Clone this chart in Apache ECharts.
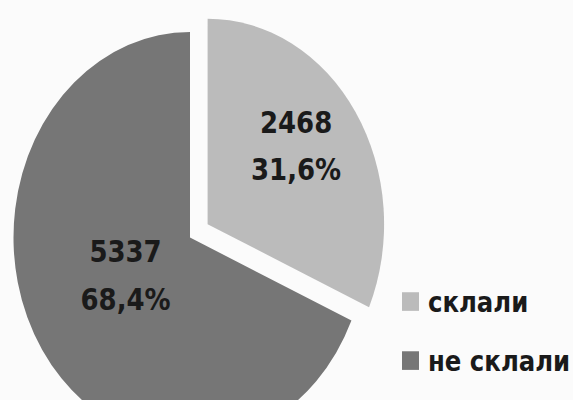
<!DOCTYPE html>
<html>
<head>
<meta charset="utf-8">
<script src="https://cdn.jsdelivr.net/npm/echarts@6/dist/echarts.min.js"></script>
<style>
  html, body { margin: 0; padding: 0; background: #fbfbfb; }
  #wrap { width: 573px; height: 400px; overflow: hidden; position: relative; background: #fbfbfb; }
  #chart { width: 573px; height: 344px; transform: scaleY(1.1643); transform-origin: 0 0; }
</style>
</head>
<body>
<div id="wrap"><div id="chart"></div></div>
<script>
const categories = ['склали', 'не склали'];
const values = [2468, 5337];
const colors = ['#bbbbbb', '#767676'];

const chart = echarts.init(document.getElementById('chart'), null, { renderer: 'svg' });
const fontFam = '"DejaVu Sans", sans-serif';

chart.setOption({
  backgroundColor: 'transparent',
  animation: false,
  legend: {
    orient: 'vertical',
    left: 402,
    top: 245,
    padding: 0,
    itemWidth: 17,
    itemHeight: 16,
    itemGap: 22.7,
    icon: 'rect',
    selectedMode: false,
    data: categories.map((c, i) => ({ name: c, itemStyle: { color: colors[i] } })),
    textStyle: {
      fontFamily: fontFam,
      fontWeight: 'bold',
      fontSize: 24.4,
      lineHeight: 28,
      color: '#1a1a1a',
      padding: [0, 0, 0, 4]
    }
  },
  series: [{
    type: 'pie',
    center: [190, 204],
    radius: [0, 176.5],
    startAngle: 90,
    clockwise: true,
    selectedMode: 'single',
    selectedOffset: 21,
    avoidLabelOverlap: false,
    emphasis: { disabled: true },
    itemStyle: { borderWidth: 0 },
    label: {
      show: true,
      position: 'inside',
      fontFamily: fontFam,
      fontWeight: 'bold',
      fontSize: 26,
      lineHeight: 41,
      color: '#1a1a1a',
      formatter: p => p.value + '\n' + p.percent.toFixed(1).replace('.', ',') + '%'
    },
    labelLine: { show: false },
    labelLayout: { dx: 12, dy: -17 },
    percentPrecision: 2,
    data: categories.map((c, i) => ({
      name: c,
      value: values[i],
      selected: i === 0,
      itemStyle: { color: colors[i] }
    }))
  }]
});
</script>
</body>
</html>
